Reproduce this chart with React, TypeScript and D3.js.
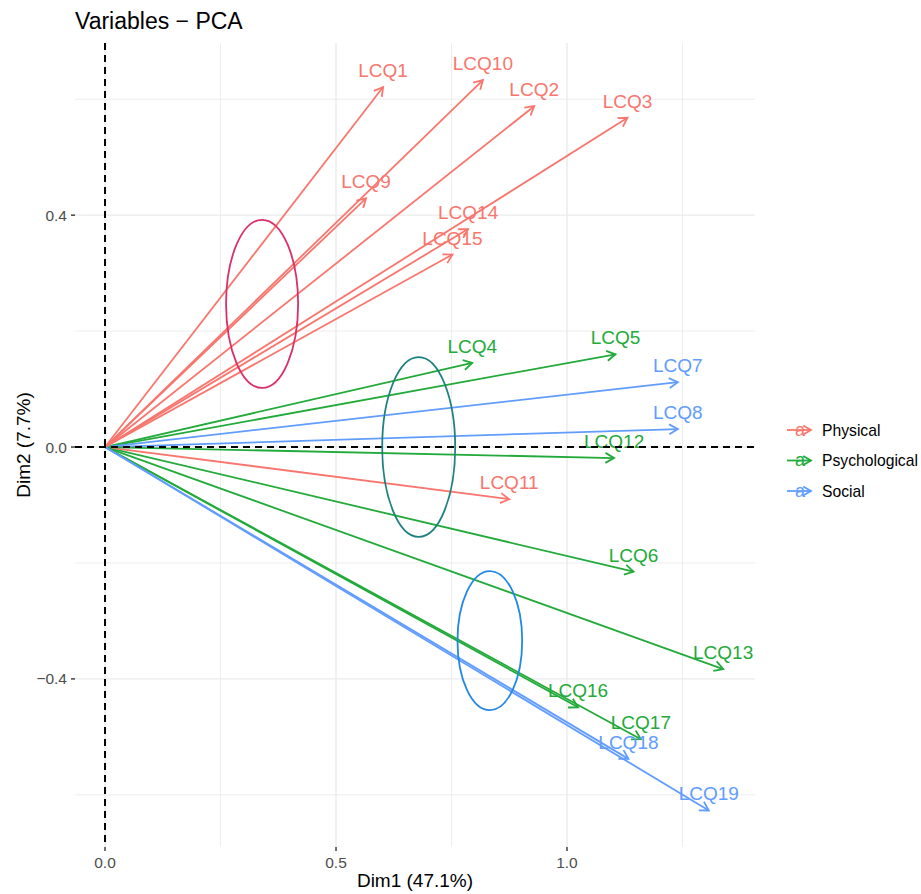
import React from 'react';
import * as d3 from 'd3';

// loadings
const variables = ["LCQ1", "LCQ2", "LCQ3", "LCQ4", "LCQ5", "LCQ6", "LCQ7", "LCQ8", "LCQ9", "LCQ10",
  "LCQ11", "LCQ12", "LCQ13", "LCQ14", "LCQ15", "LCQ16", "LCQ17", "LCQ18", "LCQ19"];
const dim1 = [0.602, 0.929, 1.131, 0.795, 1.105, 1.144, 1.240, 1.240, 0.565, 0.818,
  0.875, 1.102, 1.338, 0.786, 0.752, 1.024, 1.160, 1.133, 1.307];
const dim2 = [0.621, 0.588, 0.568, 0.145, 0.160, -0.215, 0.112, 0.031, 0.429, 0.633,
  -0.090, -0.019, -0.383, 0.376, 0.332, -0.449, -0.504, -0.538, -0.627];
const groups = ["Physical", "Physical", "Physical", "Psychological", "Psychological", "Psychological", "Social", "Social", "Physical", "Physical",
  "Physical", "Psychological", "Psychological", "Physical", "Physical", "Psychological", "Psychological", "Social", "Social"];

const groupNames = ["Physical", "Psychological", "Social"];

// ellipses (centre / radii in dim units)
const ellipseCx = [0.340, 0.679, 0.833];
const ellipseCy = [0.247, 0.0, -0.334];
const ellipseRx = [0.078, 0.079, 0.070];
const ellipseRy = [0.145, 0.155, 0.120];

const xMajor = [0, 0.5, 1.0];
const xMinor = [0.25, 0.75, 1.25];
const yMajor = [-0.4, 0, 0.4];
const yMinor = [-0.6, -0.2, 0.2, 0.6];

const colors: Record<string, string> = {
  Physical: '#F8766D',
  Psychological: '#22AA3A',
  Social: '#619CFF',
};
const ellipseColors = ['#D9306A', '#1F8080', '#2288E6'];

const font = '"Liberation Sans", Arial, sans-serif';

const W = 921, H = 894;
const left = 75, right = 755, top = 43, bottom = 847;

function arrowHead(x1: number, y1: number, x2: number, y2: number, len = 10) {
  const a = Math.atan2(y2 - y1, x2 - x1);
  const s = Math.PI / 6;
  const p1 = [x2 - len * Math.cos(a - s), y2 - len * Math.sin(a - s)];
  const p2 = [x2 - len * Math.cos(a + s), y2 - len * Math.sin(a + s)];
  return `M${p1[0]},${p1[1]}L${x2},${y2}L${p2[0]},${p2[1]}`;
}

export default function App() {
  const x = d3.scaleLinear().domain([-0.065, 1.407]).range([left, right]);
  const y = d3.scaleLinear().domain([-0.690, 0.697]).range([bottom, top]);
  const fmt = d3.format('.1f');

  return (
    <svg width={W} height={H} style={{ position: 'absolute', left: 0, top: 0, fontFamily: font }}>
      <rect width={W} height={H} fill="#fff" />
      {/* grid */}
      {xMinor.map(v => <line key={'xm' + v} x1={x(v)} x2={x(v)} y1={top} y2={bottom} stroke="#EBEBEB" strokeWidth={0.9} />)}
      {yMinor.map(v => <line key={'ym' + v} y1={y(v)} y2={y(v)} x1={left} x2={right} stroke="#EBEBEB" strokeWidth={0.9} />)}
      {xMajor.map(v => <line key={'xM' + v} x1={x(v)} x2={x(v)} y1={top} y2={bottom} stroke="#EBEBEB" strokeWidth={1.4} />)}
      {yMajor.map(v => <line key={'yM' + v} y1={y(v)} y2={y(v)} x1={left} x2={right} stroke="#EBEBEB" strokeWidth={1.4} />)}

      {/* arrows */}
      {variables.map((v, i) => {
        const x0 = x(0), y0 = y(0), x1 = x(dim1[i]), y1 = y(dim2[i]);
        return (
          <g key={v} stroke={colors[groups[i]]} strokeWidth={1.8} fill="none">
            <line x1={x0} y1={y0} x2={x1} y2={y1} />
            <path d={arrowHead(x0, y0, x1, y1)} />
          </g>
        );
      })}
      {variables.map((v, i) => (
        <text key={'t' + v} x={x(dim1[i])} y={y(dim2[i]) - 10} textAnchor="middle" fontSize={19}
          fill={colors[groups[i]]}>{v}</text>
      ))}

      {/* zero lines */}
      <line x1={x(0)} x2={x(0)} y1={top} y2={bottom} stroke="#000" strokeWidth={2} strokeDasharray="7,5" />
      <line x1={left} x2={right} y1={y(0)} y2={y(0)} stroke="#000" strokeWidth={2} strokeDasharray="7,5" />

      {/* ellipses */}
      {ellipseCx.map((cx, i) => (
        <ellipse key={'e' + i} cx={x(cx)} cy={y(ellipseCy[i])}
          rx={x(cx + ellipseRx[i]) - x(cx)} ry={y(ellipseCy[i]) - y(ellipseCy[i] + ellipseRy[i])}
          fill="none" stroke={ellipseColors[i]} strokeWidth={1.8} />
      ))}

      {/* axes */}
      {xMajor.map(v => (
        <g key={'xt' + v}>
          <line x1={x(v)} x2={x(v)} y1={bottom} y2={bottom + 4} stroke="#333" strokeWidth={1.4} />
          <text x={x(v)} y={868} textAnchor="middle" fontSize={15.5} fill="#4D4D4D">{fmt(v)}</text>
        </g>
      ))}
      {yMajor.map(v => (
        <g key={'yt' + v}>
          <line x1={left - 4} x2={left} y1={y(v)} y2={y(v)} stroke="#333" strokeWidth={1.4} />
          <text x={67} y={y(v) + 5.5} textAnchor="end" fontSize={15.5} fill="#4D4D4D">{fmt(v).replace('-', '\u2212')}</text>
        </g>
      ))}
      <text x={(left + right) / 2} y={887} textAnchor="middle" fontSize={19} fill="#000">Dim1 (47.1%)</text>
      <text transform={`translate(30, ${(top + bottom) / 2}) rotate(-90)`} textAnchor="middle" fontSize={19} fill="#000">Dim2 (7.7%)</text>
      <text x={75} y={29} fontSize={23} fill="#000">Variables − PCA</text>

      {/* legend */}
      {groupNames.map((g, i) => {
        const ly = 430 + i * 30.5;
        return (
          <g key={'lg' + g}>
            <g stroke={colors[g]} strokeWidth={1.8} fill="none">
              <line x1={787} x2={811} y1={ly} y2={ly} />
              <path d={arrowHead(787, ly, 811, ly, 9)} />
            </g>
            <text x={800} y={ly + 5.5} textAnchor="middle" fontSize={18} fill={colors[g]}>a</text>
            <text x={822} y={ly + 5.5} fontSize={15.7} fill="#000">{g}</text>
          </g>
        );
      })}
    </svg>
  );
}
